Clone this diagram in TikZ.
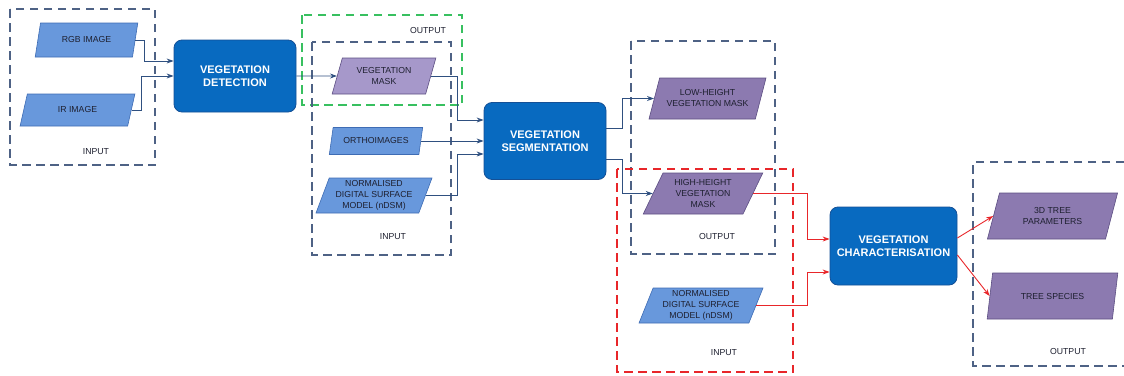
\documentclass[tikz,border=0pt]{standalone}
\usepackage{fontspec}
\setmainfont{Liberation Sans}
\usepackage{tikz}
\usetikzlibrary{arrows.meta}
\usetikzlibrary{shapes.geometric}
\usetikzlibrary{calc}
\usetikzlibrary{positioning}

\definecolor{procblue}{RGB}{8,106,192}
\definecolor{procedge}{RGB}{20,80,150}
\definecolor{inblue}{RGB}{104,152,220}
\definecolor{inedge}{RGB}{62,108,180}
\definecolor{outpurple}{RGB}{140,122,176}
\definecolor{outedge}{RGB}{92,78,130}
\definecolor{masklilac}{RGB}{166,152,202}
\definecolor{zonegray}{RGB}{78,98,133}
\definecolor{zonegreen}{RGB}{56,192,96}
\definecolor{zonered}{RGB}{232,38,42}
\definecolor{linkblue}{RGB}{47,80,128}
\definecolor{txtdark}{RGB}{30,32,48}

\tikzset{
    process/.style = {draw=procedge, fill=procblue, rounded corners=8pt, text=white,
        font=\fontsize{11}{13.3}\selectfont\bfseries, align=center, line width=0.8pt},
    databox/.style = {trapezium, trapezium left angle=70, trapezium right angle=110,
        trapezium stretches=true, line width=0.6pt, align=center, inner sep=1pt,
        font=\fontsize{8.7}{11}\selectfont, text=txtdark},
    datain/.style = {databox, fill=inblue, draw=inedge},
    dataout/.style = {databox, fill=outpurple, draw=outedge},
    zone/.style = {draw=zonegray, dash pattern=on 8.5pt off 5.5pt, line width=1.1pt},
    zonelabel/.style = {font=\fontsize{8.7}{11}\selectfont, text=txtdark},
    link/.style = {->, draw=linkblue, line width=0.9pt},
    redlink/.style = {->, draw=zonered, line width=0.9pt},
}

\begin{document}
\begin{tikzpicture}
    [   x = 1pt, y = -1pt
    ,   > = {Stealth[length=7pt, width=5pt]}
    ]
    \useasboundingbox (0,0) rectangle (1124,375);

    \draw[zone] (10,9) rectangle (155,165);
    \draw[zone, draw=zonegreen] (302,15) rectangle (462,105);
    \draw[zone] (312,42) rectangle (451,255);
    \draw[zone] (631,41) rectangle (775,254);
    \draw[zone, draw=zonered] (617,169) rectangle (793,372);
    \draw[zone] (1124,162) -- (973,162) -- (973,366) -- (1124,366);

    \node[zonelabel] (in1) at (96,152) {INPUT};
    \node[zonelabel] (out1) at (428,31) {OUTPUT};
    \node[zonelabel] (in2) at (393,237) {INPUT};
    \node[zonelabel] (out2) at (717,237) {OUTPUT};
    \node[zonelabel] (in3) at (724,353) {INPUT};
    \node[zonelabel] (out3) at (1068,351) {OUTPUT};

    \node[datain, minimum width=103pt, minimum height=34pt] (rgb) at (86.5,40) {RGB IMAGE};
    \node[datain, minimum width=115pt, minimum height=32pt] (ir) at (77.5,110) {IR IMAGE};

    \node[process, minimum width=122pt, minimum height=72pt] (vd) at (235,76)
    {VEGETATION\\DETECTION};

    \node[databox, fill=masklilac, draw=outedge, minimum width=104pt, minimum height=36pt]
    (mask) at (384,76) {VEGETATION\\MASK};
    \node[datain, minimum width=94pt, minimum height=27pt] (ortho) at (376,141) {ORTHOIMAGES};
    \node[datain, minimum width=116pt, minimum height=35pt] (ndsm) at (374,195.5)
    {NORMALISED\\DIGITAL SURFACE\\MODEL (nDSM)};

    \node[process, minimum width=122pt, minimum height=77pt] (vs) at (545,141)
    {VEGETATION\\SEGMENTATION};

    \node[dataout, trapezium left angle=64, trapezium right angle=116,
        minimum width=117pt, minimum height=41pt] (low) at (707.5,98.5)
    {LOW-HEIGHT\\VEGETATION MASK};
    \node[dataout, trapezium left angle=64, trapezium right angle=116,
        minimum width=120pt, minimum height=41pt] (high) at (703,193.5)
    {HIGH-HEIGHT\\VEGETATION\\MASK};
    \node[datain, minimum width=124pt, minimum height=35pt] (ndsmb) at (701,305.5)
    {NORMALISED\\DIGITAL SURFACE\\MODEL (nDSM)};

    \node[process, minimum width=127pt, minimum height=78pt] (vc) at (893.5,246)
    {VEGETATION\\CHARACTERISATION};

    \node[dataout, minimum width=131pt, minimum height=46pt] (treepar) at (1052.5,216)
    {3D TREE\\PARAMETERS};
    \node[dataout, minimum width=131pt, minimum height=46pt] (species) at (1052.5,296)
    {TREE SPECIES};

    \draw[link] (rgb.east) -| ([xshift=-29pt,yshift=15pt]vd.west) -- ([yshift=15pt]vd.west);
    \draw[link] (ir.east) -| ([xshift=-32pt]vd.west) -- (vd.west);
    \draw[link] (vd.east) -- (mask.west);

    \draw[link] (mask.east) -| ([xshift=-26pt,yshift=21pt]vs.west) -- ([yshift=21pt]vs.west);
    \draw[link] (ortho.east) -- (ortho.east -| vs.west);
    \draw[link] (ndsm.east) -| ([xshift=-26pt,yshift=-13pt]vs.west) -- ([yshift=-13pt]vs.west);

    \draw[link] ([yshift=13pt]vs.east) -- ++(16,0) |- (low.west);
    \draw[link] ([yshift=-18pt]vs.east) -- ++(16,0) |- (high.west);

    \draw[redlink] (high.east) -| ([xshift=-22pt,yshift=7pt]vc.west) -- ([yshift=7pt]vc.west);
    \draw[redlink] (ndsmb.east) -| ([xshift=-22pt,yshift=-26pt]vc.west) -- ([yshift=-26pt]vc.west);

    \draw[redlink] ([yshift=8pt]vc.east) -- (treepar.west);
    \draw[redlink] ([yshift=-9pt]vc.east) -- (species.west);
\end{tikzpicture}
\end{document}
